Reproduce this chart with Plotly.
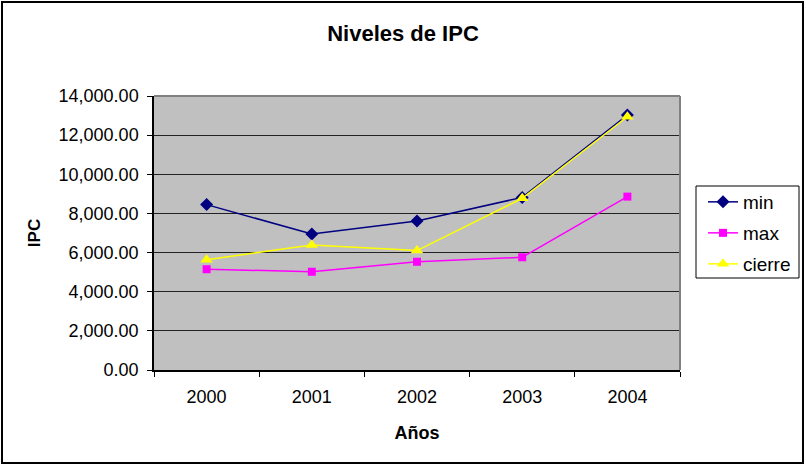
import plotly.graph_objects as go

years = ["2000", "2001", "2002", "2003", "2004"]
ipc_min = [8450, 6950, 7610, 8820, 13030]
ipc_max = [5150, 5020, 5530, 5760, 8860]
ipc_cierre = [5630, 6390, 6100, 8770, 12940]

W, H = 806, 466
L, R, T, B = 154, 680, 96, 370

def px(x):
    return (x - L) / (R - L)

def py(y):
    return (B - y) / (B - T)

FONT = "Liberation Sans, Arial, sans-serif"

fig = go.Figure()
fig.add_trace(go.Scatter(x=years, y=ipc_min, name="min", mode="lines+markers",
                         legend="legend",
                         line=dict(color="#000080", width=1.5),
                         marker=dict(symbol="diamond", size=10, color="#000080")))
fig.add_trace(go.Scatter(x=years, y=ipc_max, name="max", mode="lines+markers",
                         legend="legend2",
                         line=dict(color="#FF00FF", width=1.5),
                         marker=dict(symbol="square", size=8, color="#FF00FF")))
fig.add_trace(go.Scatter(x=years, y=ipc_cierre, name="cierre", mode="lines+markers",
                         legend="legend3",
                         line=dict(color="#FFFF00", width=1.5),
                         marker=dict(symbol="triangle-up", size=11, color="#FFFF00")))

def leg(ycenter):
    return dict(x=px(703), y=py(ycenter), xanchor="left", yanchor="middle",
                bgcolor="rgba(0,0,0,0)", borderwidth=0,
                font=dict(size=19), itemwidth=30)

fig.update_layout(
    width=W, height=H,
    margin=dict(l=L, r=W - R, t=T, b=H - B, pad=0, autoexpand=False),
    paper_bgcolor="white",
    plot_bgcolor="#C0C0C0",
    font=dict(family=FONT, size=18, color="black"),
    title=dict(text="<b>Niveles de IPC</b>", x=0.5, xanchor="center",
               y=1 - 33 / H, yanchor="middle", font=dict(size=22)),
    showlegend=True,
    legend=leg(202), legend2=leg(233), legend3=leg(264),
    xaxis=dict(type="category", range=[-0.5, 4.5], showgrid=False,
               showline=True, linecolor="black", linewidth=1.5,
               ticks="outside", tickson="boundaries", ticklen=5,
               tickcolor="black", tickfont=dict(size=18),
               ticklabelstandoff=10, automargin=False,
               title=dict(text="<b>Años</b>", font=dict(size=18), standoff=20),
               zeroline=False, fixedrange=True),
    yaxis=dict(range=[0, 14000], dtick=2000, tickformat=",.2f",
               showgrid=True, gridcolor="#222222", gridwidth=1,
               showline=True, linecolor="black", linewidth=1.5,
               ticks="outside", ticklen=5, tickcolor="black",
               tickfont=dict(size=18), ticklabelstandoff=5, automargin=False,
               title=dict(text="<b>IPC</b>", font=dict(size=17), standoff=14),
               zeroline=False, fixedrange=True),
)

# plot area top/right border (gray)
fig.add_shape(type="line", xref="paper", yref="paper", x0=0, x1=1, y0=1, y1=1,
              line=dict(color="#808080", width=2))
fig.add_shape(type="line", xref="paper", yref="paper", x0=1, x1=1, y0=0, y1=1,
              line=dict(color="#808080", width=2))
# legend box
fig.add_shape(type="rect", xref="paper", yref="paper",
              x0=px(696), x1=px(799), y0=py(278), y1=py(186),
              line=dict(color="black", width=1), fillcolor="white", layer="below")
# outer chart border
fig.add_shape(type="rect", xref="paper", yref="paper",
              x0=px(2), x1=px(803), y0=py(463), y1=py(2),
              line=dict(color="black", width=2), fillcolor="rgba(0,0,0,0)")

fig.write_html("out.html", config={"displayModeBar": False},
               post_script="document.body.style.margin='0';")
